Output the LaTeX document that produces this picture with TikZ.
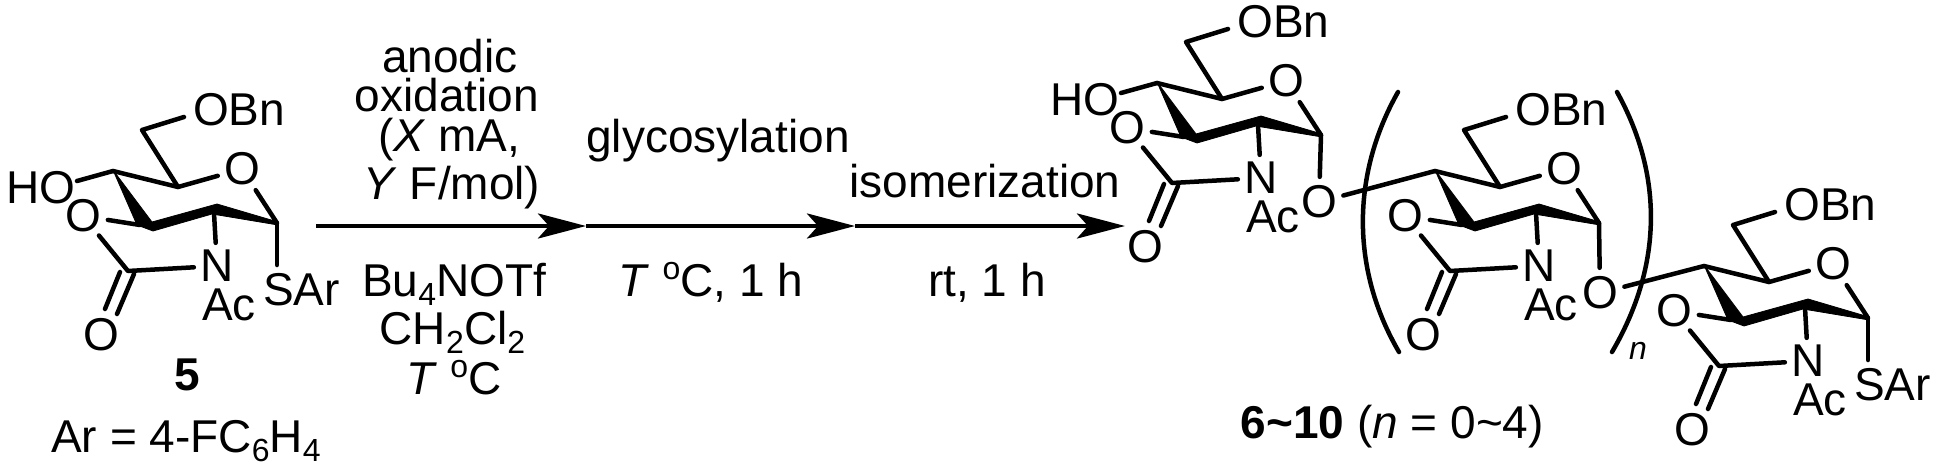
\documentclass[tikz,border=0pt]{standalone}
\usepackage{fontspec}
\setmainfont{Liberation Sans}
\usetikzlibrary{arrows.meta}
\newcommand{\chemsize}{\fontsize{46}{50}\selectfont}
\newcommand{\lowsub}[1]{\raisebox{-9pt}{\fontsize{32}{34}\selectfont #1}}
\newcommand{\highdeg}{\raisebox{17pt}{\fontsize{32}{34}\selectfont o}}
\tikzset{
  bond/.style={line width=4.5pt,line cap=round,line join=round},
  wedgebond/.style={fill=black,draw=black,line width=0.8pt,line join=round},
  atomO/.style={circle,inner sep=0pt,minimum size=50pt,font=\chemsize},
  atomN/.style={circle,inner sep=0pt,minimum size=46pt,font=\chemsize},
  lbl/.style={inner sep=0pt,font=\chemsize,anchor=base west},
  ctr/.style={inner sep=0pt,font=\chemsize,anchor=base},
  rxn/.style={line width=4.5pt,-{Stealth[length=48pt,width=25pt,inset=11pt]}},
}
% #1 prefix, #2 dx, #3 dy : one oxazolidinone-fused pyranose ring
\newcommand{\sugar}[3]{%
\begin{scope}[shift={(#2,#3)}]
  \coordinate (#1c1) at (277,223);
  \coordinate (#1c2n) at (214,213);
  \coordinate (#1c3) at (140,225);
  \coordinate (#1c4) at (113,171);
  \coordinate (#1c5) at (178,187);
  \coordinate (#1c6) at (142,130);
  \coordinate (#1co) at (128,271);
  \coordinate (#1oe) at (184,117);
  \coordinate (#1dA) at (120,272);
  \coordinate (#1dB) at (105,309);
  \coordinate (#1dC) at (134,274);
  \coordinate (#1dD) at (117,314);
  \node[atomO] (#1ro) at (242,169) {O};
  \node[atomO] (#1ot) at (83,216) {O};
  \node[atomO] (#1ok) at (101,335) {O};
  \node[atomN] (#1n) at (217,266) {N};
  \node[lbl] (#1ac) at (202,320) {Ac};
  \node[lbl] (#1bn) at (193,125) {OBn};
  \draw[bond] (#1oe) -- (#1c6) -- (#1c5);
  \draw[bond] (#1c4) -- (#1c5) -- (#1ro);
  \draw[bond] (#1ro) -- (#1c1);
  \draw[bond] (#1c3) -- (#1ot);
  \draw[bond] (#1ot) -- (#1co) -- (#1n);
  \draw[bond] (#1c2n) -- (#1n);
  \draw[bond] (#1dA) -- (#1dB);
  \draw[bond] (#1dC) -- (#1dD);
  \draw[wedgebond] (113,170) -- (152,222) -- (217,204) -- (278,222) -- (278,225)
     -- (212,214) -- (153,231) -- (137,225) -- cycle;
\end{scope}}
\begin{document}
\begin{tikzpicture}[x=1pt,y=-1pt]
\useasboundingbox (0,0) rectangle (1933,469);
% reagent 5
\sugar{a}{0}{0}
\node[lbl] (aho) at (6,203) {HO};
\coordinate (ahe) at (77,181);
\draw[bond] (ahe) -- (ac4);
\coordinate (as) at (277,265);
\draw[bond] (ac1) -- (as);
\node[lbl] (asar) at (263,305) {SAr};
\node[ctr,font=\chemsize\bfseries] (five) at (187,390) {5};
\node[ctr] (def) at (186,452) {Ar = 4-FC\lowsub{6}H\lowsub{4}};
% arrows
\coordinate (p0) at (316,226);
\coordinate (p1) at (586,226);
\coordinate (p2) at (855,226);
\coordinate (p3) at (1125,226);
\draw[rxn] (p0) -- (p1);
\draw[rxn] (p1) -- (p2);
\draw[rxn] (p2) -- (p3);
\node[ctr] (t1) at (450,72) {anodic};
\node[ctr] (t2) at (447,111) {oxidation};
\node[ctr] (t3) at (449,151) {(\textit{X} mA,};
\node[ctr] (t4) at (452,199) {\textit{Y} F/mol)};
\node[ctr] (t5) at (454,296) {Bu\lowsub{4}NOTf};
\node[ctr] (t6) at (452.5,344) {CH\lowsub{2}Cl\lowsub{2}};
\node[ctr] (t7) at (454,394) {\textit{T} \highdeg C};
\node[ctr] (t8) at (718,152) {glycosylation};
\node[ctr] (t9) at (711,296) {\textit{T} \highdeg C, 1 h};
\node[ctr] (t10) at (985,197) {isomerization};
\node[ctr] (t11) at (987,296) {rt, 1 h};
% product
\sugar{b}{1044}{-88}
\node[lbl] (bho) at (1050,115) {HO};
\coordinate (bhe) at (1121,93);
\draw[bond] (bhe) -- (bc4);
\node[atomO] (bog) at (1319,202) {O};
\draw[bond] (bc1) -- (bog);
\sugar{c}{1322}{0}
\draw[bond] (bog) -- (cc4);
\node[atomO] (cog) at (1600,293) {O};
\draw[bond] (cc1) -- (cog);
\sugar{d}{1591}{95}
\draw[bond] (cog) -- (dc4);
\coordinate (ds) at (1868,360);
\draw[bond] (dc1) -- (ds);
\node[lbl] (dsar) at (1854,400) {SAr};
% brackets
\coordinate (lbt) at (1398,92);
\coordinate (lbb) at (1399,352);
\coordinate (rbt) at (1617,92);
\coordinate (rbb) at (1612,352);
\draw[bond] (lbt) .. controls (1351,175) and (1351,270) .. (lbb);
\draw[bond] (rbt) .. controls (1663,175) and (1663,265) .. (rbb);
\node[ctr,font=\fontsize{32}{34}\selectfont\itshape] (nn) at (1638,359) {n};
\node[inner sep=0pt,font=\chemsize,anchor=base east] (cap) at (1544,438) {\textbf{6\textasciitilde 10} (\textit{n} = 0\textasciitilde 4)};
\end{tikzpicture}
\end{document}
